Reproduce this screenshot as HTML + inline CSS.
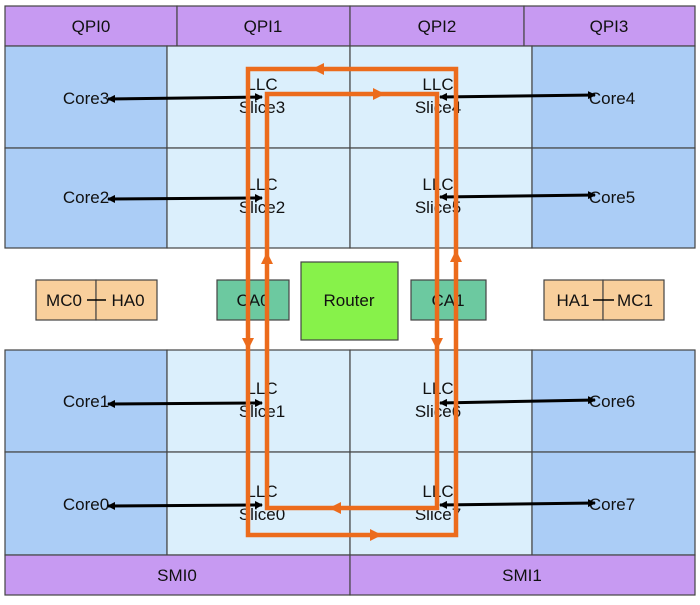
<!DOCTYPE html>
<html><head><meta charset="utf-8"><style>
body{margin:0;background:#fff;}
svg text{font-family:"Liberation Sans",sans-serif;font-size:17px;fill:#111;}
</style></head><body>
<svg width="700" height="600" viewBox="0 0 700 600" xmlns="http://www.w3.org/2000/svg">
<defs>
<marker id="bk" markerWidth="8" markerHeight="8" refX="7" refY="4" orient="auto" markerUnits="userSpaceOnUse"><path d="M0,0 L8,4 L0,8 z" fill="#000"/></marker>
<marker id="bks" markerWidth="8" markerHeight="8" refX="1" refY="4" orient="auto" markerUnits="userSpaceOnUse"><path d="M8,0 L0,4 L8,8 z" fill="#000"/></marker>
</defs>
<rect width="700" height="600" fill="#fff"/>
<g stroke="#444" stroke-width="1.2">
<rect x="5" y="6" width="172" height="40" fill="#c79af2"/>
<rect x="177" y="6" width="173" height="40" fill="#c79af2"/>
<rect x="350" y="6" width="174" height="40" fill="#c79af2"/>
<rect x="524" y="6" width="171" height="40" fill="#c79af2"/>
<rect x="5" y="46" width="162" height="102" fill="#abcdf6"/>
<rect x="5" y="148" width="162" height="100" fill="#abcdf6"/>
<rect x="167" y="46" width="183" height="102" fill="#dbeffc"/>
<rect x="167" y="148" width="183" height="100" fill="#dbeffc"/>
<rect x="350" y="46" width="182" height="102" fill="#dbeffc"/>
<rect x="350" y="148" width="182" height="100" fill="#dbeffc"/>
<rect x="532" y="46" width="163" height="102" fill="#abcdf6"/>
<rect x="532" y="148" width="163" height="100" fill="#abcdf6"/>
<rect x="5" y="350" width="162" height="102" fill="#abcdf6"/>
<rect x="5" y="452" width="162" height="103" fill="#abcdf6"/>
<rect x="167" y="350" width="183" height="102" fill="#dbeffc"/>
<rect x="167" y="452" width="183" height="103" fill="#dbeffc"/>
<rect x="350" y="350" width="182" height="102" fill="#dbeffc"/>
<rect x="350" y="452" width="182" height="103" fill="#dbeffc"/>
<rect x="532" y="350" width="163" height="102" fill="#abcdf6"/>
<rect x="532" y="452" width="163" height="103" fill="#abcdf6"/>
<rect x="5" y="555" width="345" height="40" fill="#c79af2"/>
<rect x="350" y="555" width="345" height="40" fill="#c79af2"/>
<rect x="36" y="280" width="60" height="40" fill="#f8cf9c"/>
<rect x="96" y="280" width="61" height="40" fill="#f8cf9c"/>
<rect x="544" y="280" width="59" height="40" fill="#f8cf9c"/>
<rect x="603" y="280" width="61" height="40" fill="#f8cf9c"/>
<rect x="217" y="280" width="72" height="40" fill="#6cc9a0"/>
<rect x="411" y="280" width="75" height="40" fill="#6cc9a0"/>
<rect x="301" y="262" width="97" height="78" fill="#87f24a"/>
</g>
<g text-anchor="middle">
<text x="91" y="32">QPI0</text><text x="263" y="32">QPI1</text><text x="437" y="32">QPI2</text><text x="609" y="32">QPI3</text>
<text x="177" y="581">SMI0</text><text x="522" y="581">SMI1</text>
<text x="86" y="104">Core3</text><text x="86" y="203">Core2</text><text x="86" y="407">Core1</text><text x="86" y="510">Core0</text>
<text x="612" y="104">Core4</text><text x="612" y="203">Core5</text><text x="612" y="407">Core6</text><text x="612" y="510">Core7</text>
<text x="262" y="90">LLC</text><text x="262" y="113">Slice3</text>
<text x="262" y="190">LLC</text><text x="262" y="213">Slice2</text>
<text x="262" y="394">LLC</text><text x="262" y="417">Slice1</text>
<text x="262" y="497">LLC</text><text x="262" y="520">Slice0</text>
<text x="438" y="90">LLC</text><text x="438" y="113">Slice4</text>
<text x="438" y="190">LLC</text><text x="438" y="213">Slice5</text>
<text x="438" y="394">LLC</text><text x="438" y="417">Slice6</text>
<text x="438" y="497">LLC</text><text x="438" y="520">Slice7</text>
<text x="253" y="306">CA0</text><text x="448" y="306">CA1</text>
<text x="349" y="306">Router</text>
<text x="64" y="306">MC0</text><text x="128" y="306">HA0</text>
<text x="573" y="306">HA1</text><text x="635" y="306">MC1</text>
</g>
<g stroke="#000" stroke-width="3" marker-start="url(#bks)" marker-end="url(#bk)">
<line x1="108" y1="99" x2="262" y2="97"/>
<line x1="108" y1="199" x2="262" y2="198"/>
<line x1="108" y1="404" x2="262" y2="403"/>
<line x1="108" y1="506" x2="262" y2="505"/>
<line x1="440" y1="97" x2="595" y2="95"/>
<line x1="440" y1="197" x2="595" y2="195"/>
<line x1="440" y1="403" x2="595" y2="400"/>
<line x1="440" y1="505" x2="595" y2="503"/>
</g>
<g stroke="#000" stroke-width="1.5">
<line x1="87" y1="300" x2="106" y2="300"/>
<line x1="593" y1="300" x2="614" y2="300"/>
</g>
<g fill="none" stroke="#ec6b1c" stroke-width="4.5">
<rect x="248" y="69" width="208" height="466"/>
<rect x="267" y="94" width="170" height="414"/>
</g>
<g fill="#ec6b1c">
<path d="M312,69 l12,-6 v12 z"/>
<path d="M385,94 l-12,-6 v12 z"/>
<path d="M329,508 l12,-6 v12 z"/>
<path d="M382,535 l-12,-6 v12 z"/>
<path d="M248,350 l-6,-12 h12 z"/>
<path d="M267,252 l-6,12 h12 z"/>
<path d="M437,350 l-6,-12 h12 z"/>
<path d="M456,250 l-6,12 h12 z"/>
</g>
</svg>
</body></html>
